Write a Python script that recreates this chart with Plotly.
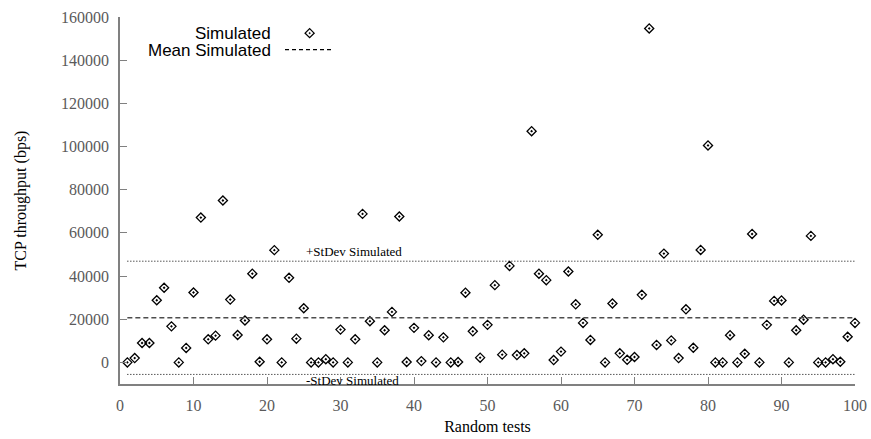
import numpy as np
import plotly.graph_objects as go

# Random test index and measured TCP throughput (bps)
tests = list(range(1, 101))
throughput = [
    0, 2000, 9000, 9000, 28800, 34600, 16700, 0, 6700, 32400,
    67100, 10700, 12400, 75000, 29100, 12700, 19400, 41100, 300, 10700,
    52000, 0, 39200, 11000, 25100, 0, 0, 1500, 0, 15200,
    0, 10700, 68800, 19100, 0, 14900, 23400, 67600, 200, 16000,
    600, 12600, 0, 11600, 0, 200, 32300, 14400, 2200, 17400,
    35800, 3600, 44700, 3400, 4200, 107100, 41100, 38100, 1100, 5000,
    42100, 26900, 18300, 10400, 59100, 0, 27300, 4200, 1200, 2500,
    31300, 154700, 8100, 50400, 10200, 2000, 24600, 6800, 52100, 100500,
    0, 0, 12600, 0, 4000, 59500, 0, 17400, 28500, 28700,
    0, 14900, 19800, 58600, 0, 0, 1500, 300, 11900, 18300,
]
x_ticks = list(range(0, 101, 10))
y_ticks = list(range(0, 160001, 20000))

mean_val = float(np.mean(throughput))
std_val = float(np.std(throughput))
span = [tests[0], tests[-1]]

SERIF = "Liberation Serif, Times New Roman, serif"
SANS = "Liberation Sans, Arial, sans-serif"
AXIS_GRAY = "#808080"
LABEL_GRAY = "#5a5a5a"

fig = go.Figure()

fig.add_trace(go.Scatter(
    x=tests, y=throughput, mode="markers", name="Simulated",
    marker=dict(symbol="diamond-open-dot", size=7, color="black",
                line=dict(width=1.3, color="black")),
    cliponaxis=False, showlegend=False,
))
fig.add_trace(go.Scatter(
    x=span, y=[mean_val, mean_val], mode="lines", name="Mean Simulated",
    line=dict(color="#4d4d4d", width=1.5, dash="5px,3px"), showlegend=False,
))
for sign in (1, -1):
    fig.add_trace(go.Scatter(
        x=span, y=[mean_val + sign * std_val] * 2, mode="lines",
        line=dict(color="black", width=1, dash="1px,2px"), showlegend=False,
    ))

# Labels for the standard deviation bands
fig.add_annotation(x=25, y=mean_val + std_val, text="+StDev Simulated",
                   xanchor="left", yanchor="middle", yshift=10, showarrow=False,
                   font=dict(family=SERIF, size=13, color="black"))
fig.add_annotation(x=25, y=mean_val - std_val, text="-StDev Simulated",
                   xanchor="left", yanchor="middle", yshift=-6, showarrow=False,
                   font=dict(family=SERIF, size=13, color="black"))

# Key: right-aligned text with sample to its right
fig.add_annotation(xref="paper", yref="paper", x=0.208, y=0.956, text="Simulated",
                   xanchor="right", yanchor="middle", showarrow=False,
                   font=dict(family=SANS, size=17, color="black"))
fig.add_annotation(xref="paper", yref="paper", x=0.208, y=0.910, text="Mean Simulated",
                   xanchor="right", yanchor="middle", showarrow=False,
                   font=dict(family=SANS, size=17, color="black"))
fig.add_shape(type="line", xref="paper", yref="paper", x0=0.2245, x1=0.2898,
              y0=0.911, y1=0.911, line=dict(color="black", width=1.2, dash="4px,3px"))
fig.add_shape(type="path", xref="paper", yref="paper", xsizemode="pixel", ysizemode="pixel",
              xanchor=0.258, yanchor=0.956, path="M -4.5 0 L 0 4.5 L 4.5 0 L 0 -4.5 Z",
              line=dict(color="black", width=1.3))
fig.add_shape(type="circle", xref="paper", yref="paper", xsizemode="pixel", ysizemode="pixel",
              xanchor=0.258, yanchor=0.956, x0=-0.7, x1=0.7, y0=-0.7, y1=0.7,
              line=dict(color="black", width=0.5), fillcolor="black")

fig.update_layout(
    width=871, height=439,
    margin=dict(l=120, r=16, t=17, b=55),
    paper_bgcolor="white", plot_bgcolor="white",
    showlegend=False,
)
fig.update_xaxes(
    range=[0, 100], tickvals=x_ticks, ticks="inside", ticklen=7, tickwidth=1,
    tickcolor=AXIS_GRAY, showline=True, linecolor=AXIS_GRAY, linewidth=1.5,
    showgrid=False, zeroline=False, ticklabelstandoff=6, automargin=False,
    tickfont=dict(family=SERIF, size=16, color=LABEL_GRAY),
    title=dict(text="Random tests", standoff=8, font=dict(family=SERIF, size=16, color="black")),
)
fig.update_yaxes(
    range=[-10000, 160000], tickvals=y_ticks, tickformat="d", ticks="inside", ticklen=7,
    tickwidth=1, tickcolor=AXIS_GRAY, showline=True, linecolor=AXIS_GRAY, linewidth=1.5,
    showgrid=False, zeroline=False, ticklabelstandoff=6, automargin=False,
    tickfont=dict(family=SERIF, size=16, color=LABEL_GRAY),
    title=dict(text="TCP throughput (bps)", standoff=30, font=dict(family=SERIF, size=16, color="black")),
)

fig.write_html("out.html")
